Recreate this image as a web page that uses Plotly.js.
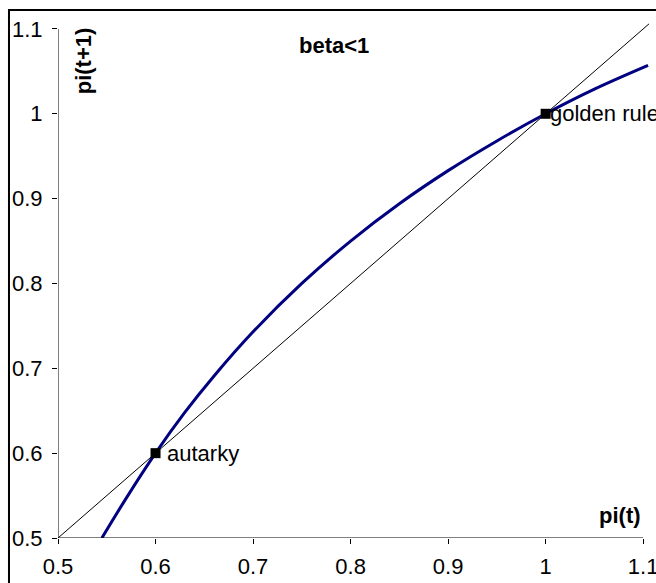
<!DOCTYPE html>
<html>
<head>
<meta charset="utf-8">
<script src="https://cdn.plot.ly/plotly-3.0.1.min.js"></script>
<style>
  html, body { margin: 0; padding: 0; background: #ffffff; }
  #chart { width: 656px; height: 583px; }
</style>
</head>
<body>
<div id="chart"></div>
<script>
// ---- data ----
const curveX = [0.545, 0.57, 0.6, 0.63, 0.66, 0.7, 0.75, 0.8, 0.85, 0.9, 0.95, 1.0, 1.05, 1.105];
const curveY = [0.5, 0.547, 0.6, 0.648, 0.691, 0.743, 0.8, 0.85, 0.894, 0.933, 0.968, 1.0, 1.029, 1.057];
const diagX = [0.5, 0.6, 0.674, 0.8, 0.9, 1.0, 1.106];
const diagY = [0.5, 0.6, 0.674, 0.8, 0.9, 1.0, 1.106];
const pointX = [0.6, 1.0];
const pointY = [0.6, 1.0];
const pointLabels = ["autarky", "golden rule"];
const tickValues = [0.5, 0.6, 0.7, 0.8, 0.9, 1, 1.1];
const tickLabels = ["0.5", "0.6", "0.7", "0.8", "0.9", "1", "1.1"];
const chartTitle = "beta<1";
const xTitle = "pi(t)";
const yTitle = "pi(t+1)";

const FONT = "Liberation Sans, Arial, sans-serif";
const FS = 22;

const traces = [
  {
    x: diagX, y: diagY, type: "scatter", mode: "lines",
    line: { color: "#000000", width: 1 }, hoverinfo: "skip"
  },
  {
    x: curveX, y: curveY, type: "scatter", mode: "lines",
    line: { color: "#000080", width: 3, shape: "spline", smoothing: 1 }, hoverinfo: "skip"
  },
  {
    x: pointX, y: pointY, type: "scatter", mode: "markers",
    marker: { symbol: "square", size: 10, color: "#000000" }, hoverinfo: "skip"
  }
];

const annotations = [
  { x: 0.7828, y: 1.080, xref: "x", yref: "y", text: "<b>" + chartTitle + "</b>", showarrow: false,
    xanchor: "center", yanchor: "middle", font: { family: FONT, size: FS, color: "#000" } },
  { x: 0.5256, y: 1.063, xref: "x", yref: "y", text: "<b>" + yTitle + "</b>", showarrow: false, textangle: -90,
    xanchor: "center", yanchor: "middle", font: { family: FONT, size: FS, color: "#000" } },
  { x: 1.0758, y: 0.526, xref: "x", yref: "y", text: "<b>" + xTitle + "</b>", showarrow: false,
    xanchor: "center", yanchor: "middle", font: { family: FONT, size: FS, color: "#000" } },
  { x: pointX[0], y: pointY[0], xref: "x", yref: "y", text: pointLabels[0], showarrow: false,
    xanchor: "left", yanchor: "middle", xshift: 9, font: { family: FONT, size: FS, color: "#000" } },
  { x: pointX[1], y: pointY[1], xref: "x", yref: "y", text: pointLabels[1], showarrow: false,
    xanchor: "left", yanchor: "middle", xshift: 2, font: { family: FONT, size: FS, color: "#000" } }
];

const shapes = [
  // outer chart frame (extends beyond the right and bottom edges)
  { type: "rect", xref: "paper", yref: "paper", x0: -0.0828, x1: 1.2, y0: -0.3, y1: 1.0252,
    line: { color: "#000", width: 2 }, fillcolor: "rgba(0,0,0,0)", layer: "below" },
  // axis lines
  { type: "line", xref: "x", yref: "y", x0: 0.5, x1: 1.1, y0: 0.5, y1: 0.5, line: { color: "#000", width: 1 } },
  { type: "line", xref: "x", yref: "y", x0: 0.5, x1: 0.5, y0: 0.5, y1: 1.1, line: { color: "#000", width: 1 } }
];

const layout = {
  width: 656, height: 583,
  margin: { l: 58, r: 6, t: 23, b: 45, pad: 0 },
  paper_bgcolor: "#ffffff", plot_bgcolor: "#ffffff",
  showlegend: false,
  font: { family: FONT, size: FS, color: "#000" },
  xaxis: {
    range: [0.5, 1.107], showgrid: false, zeroline: false, showline: false,
    tickmode: "array", tickvals: tickValues, ticktext: tickLabels,
    ticks: "outside", ticklen: 5, tickcolor: "#000", tickwidth: 1,
    ticklabelstandoff: 4, ticklabeloverflow: "allow",
    tickfont: { family: FONT, size: FS, color: "#000" }
  },
  yaxis: {
    range: [0.5, 1.107], showgrid: false, zeroline: false, showline: false,
    tickmode: "array", tickvals: tickValues, ticktext: tickLabels,
    ticks: "outside", ticklen: 5, tickcolor: "#000", tickwidth: 1,
    ticklabelstandoff: 5, ticklabeloverflow: "allow",
    tickfont: { family: FONT, size: FS, color: "#000" }
  },
  annotations: annotations,
  shapes: shapes
};

Plotly.newPlot("chart", traces, layout, { displayModeBar: false, staticPlot: true });
</script>
</body>
</html>
